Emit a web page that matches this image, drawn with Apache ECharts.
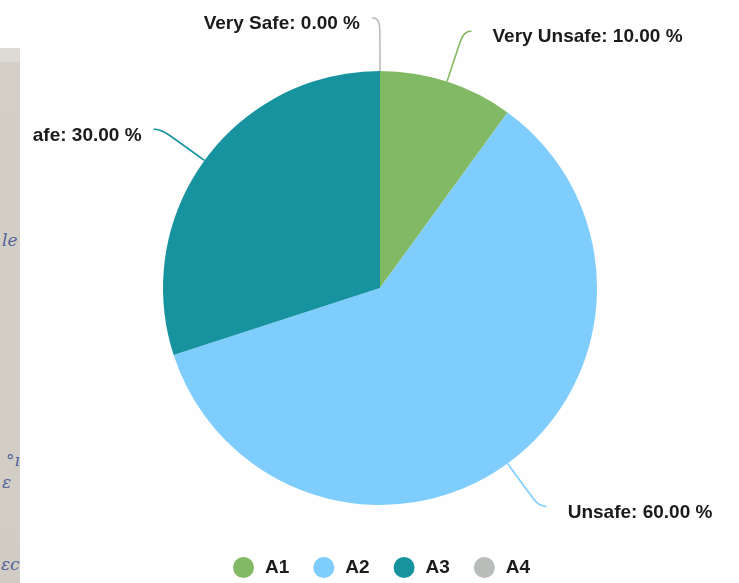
<!DOCTYPE html>
<html>
<head>
<meta charset="utf-8">
<title>Safety perception</title>
<script src="https://cdn.jsdelivr.net/npm/echarts@6/dist/echarts.min.js"></script>
<style>
  html, body { margin: 0; padding: 0; width: 739px; height: 583px; background: #fefefe; overflow: hidden; }
  #paper {
    position: absolute; left: 0; top: 48px; width: 20px; height: 535px;
    background: linear-gradient(#dedbd4 0, #dedbd4 14px, #d3cfc6 14px, #d1cdc4 100%);
    overflow: hidden; font-family: "DejaVu Serif", serif; font-style: italic;
    color: #51629c; font-size: 17px;
  }
  #paper span { position: absolute; white-space: nowrap; }
  #chart { position: absolute; left: 32px; top: 0; width: 707px; height: 583px; }
</style>
</head>
<body>
<div id="paper">
  <span style="left:2px; top:182px;">le</span>
  <span style="left:6px; top:402px;">°ı</span>
  <span style="left:2px; top:424px;">ɛ</span>
  <span style="left:1px; top:506px;">ɛc</span>
</div>
<div id="chart"></div>
<script>
// Legend keys, the descriptive name shown in each slice label, and the share in percent
const categories = ['A1', 'A2', 'A3', 'A4'];
const labelNames = ['Very Unsafe', 'Unsafe', 'Safe', 'Very Safe'];
const shares = [10, 60, 30, 0];
const colors = ['#82b964', '#7fcdfd', '#17939f', '#b9bdba'];

const chart = echarts.init(document.getElementById('chart'), null, { renderer: 'canvas' });

const labelFont = '"Liberation Sans", Arial, sans-serif';

// Slices on the right half get a wider gap between leader line and text
const pieData = categories.map((c, i) => ({
  name: c,
  value: shares[i],
  itemStyle: { color: colors[i] },
  label: { distanceToLabelLine: i < 2 ? 21 : 12 }
}));

chart.setOption({
  animation: false,
  legend: {
    data: categories,
    left: 196,
    bottom: 0,
    icon: 'circle',
    itemWidth: 21,
    itemHeight: 21,
    itemGap: 24,
    textStyle: {
      fontFamily: labelFont,
      fontWeight: 'bold',
      fontSize: 19,
      color: '#1b1b1b',
      padding: [0, 0, 0, 6]
    }
  },
  series: [{
    type: 'pie',
    center: [348, 288],
    radius: 217,
    startAngle: 90,
    clockwise: true,
    avoidLabelOverlap: false,
    data: pieData,
    label: {
      show: true,
      overflow: 'none',
      fontFamily: labelFont,
      fontWeight: 'bold',
      fontSize: 19,
      color: '#1b1b1b',
      formatter: p => labelNames[p.dataIndex] + ': ' + shares[p.dataIndex].toFixed(2) + ' %'
    },
    // text sits slightly below the end of its leader line
    labelLayout: { dy: 6 },
    labelLine: {
      show: true,
      length: 53,
      length2: 8,
      smooth: 0.6,
      lineStyle: { width: 1.6 }
    },
    emphasis: { disabled: true }
  }]
});
</script>
</body>
</html>
